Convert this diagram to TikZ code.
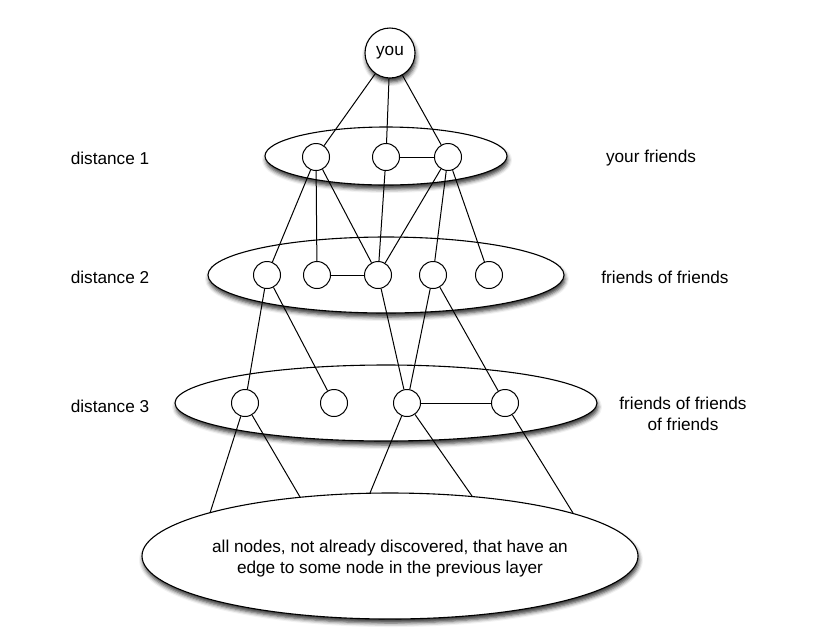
\documentclass[tikz,border=0pt]{standalone}
\usepackage{fontspec}
\setmainfont{Liberation Sans}
\usetikzlibrary{shapes.geometric,shadows.blur}
\begin{document}
\begin{tikzpicture}[x=1pt,y=-1pt,
  txt/.style={font=\fontsize{17.2}{21}\selectfont},
  shad/.style={blur shadow={shadow xshift=1pt,shadow yshift=-4pt,shadow blur radius=4pt,shadow opacity=80}},
  layerbox/.style={ellipse,draw,fill=white,line width=1.1pt,inner sep=0pt,shad},
  pt/.style={circle,draw,fill=white,line width=1pt,minimum size=27pt,inner sep=0pt},
  edge/.style={line width=1pt}]
\useasboundingbox (0,0) rectangle (821,641);
% layers
\node[layerbox,minimum width=242pt,minimum height=58pt] (L1) at (386,156) {};
\node[layerbox,minimum width=356pt,minimum height=76pt] (L2) at (386,275) {};
\node[layerbox,minimum width=422pt,minimum height=76pt] (L3) at (386,403) {};
\node[layerbox,minimum width=496pt,minimum height=126pt] (L4) at (390,556) {};
\node[txt,align=center] (L4t) at (390,559) {all nodes, not already discovered, that have an\\edge to some node in the previous layer};
% you
\node[circle,draw,fill=white,line width=1.1pt,minimum size=50pt,inner sep=0pt,txt,shad] (you) at (390,53) {you};
% level 1
\node[pt] (a) at (316,157) {};
\node[pt] (b) at (386,157) {};
\node[pt] (c) at (448,157) {};
% level 2
\node[pt] (d) at (267,275) {};
\node[pt] (e) at (317,275) {};
\node[pt] (f) at (378,275) {};
\node[pt] (g) at (433,275) {};
\node[pt] (h) at (489,275) {};
% level 3
\node[pt] (i) at (245,403) {};
\node[pt] (j) at (334,403) {};
\node[pt] (k) at (407,403) {};
\node[pt] (l) at (505,403) {};
% free ends on bottom layer
\coordinate (b1) at (210,513);
\coordinate (b2) at (300,497);
\coordinate (b3) at (370,493);
\coordinate (b4) at (472,496);
\coordinate (b5) at (573,513);
% edges
\draw[edge] (you) -- (a);
\draw[edge] (you) -- (b);
\draw[edge] (you) -- (c);
\draw[edge] (b) -- (c);
\draw[edge] (a) -- (d);
\draw[edge] (a) -- (e);
\draw[edge] (a) -- (f);
\draw[edge] (b) -- (f);
\draw[edge] (c) -- (f);
\draw[edge] (c) -- (g);
\draw[edge] (c) -- (h);
\draw[edge] (e) -- (f);
\draw[edge] (d) -- (i);
\draw[edge] (d) -- (j);
\draw[edge] (f) -- (k);
\draw[edge] (g) -- (k);
\draw[edge] (g) -- (l);
\draw[edge] (k) -- (l);
\draw[edge] (i) -- (b1);
\draw[edge] (i) -- (b2);
\draw[edge] (k) -- (b3);
\draw[edge] (k) -- (b4);
\draw[edge] (l) -- (b5);
% labels
\node[txt] (d1) at (110,158) {distance 1};
\node[txt] (d2) at (110,277) {distance 2};
\node[txt] (d3) at (110,406) {distance 3};
\node[txt] (r1) at (651,158) {your friends};
\node[txt] (r2) at (665,277) {friends of friends};
\node[txt,align=center] (r3) at (683,414) {friends of friends\\of friends};
\end{tikzpicture}
\end{document}
